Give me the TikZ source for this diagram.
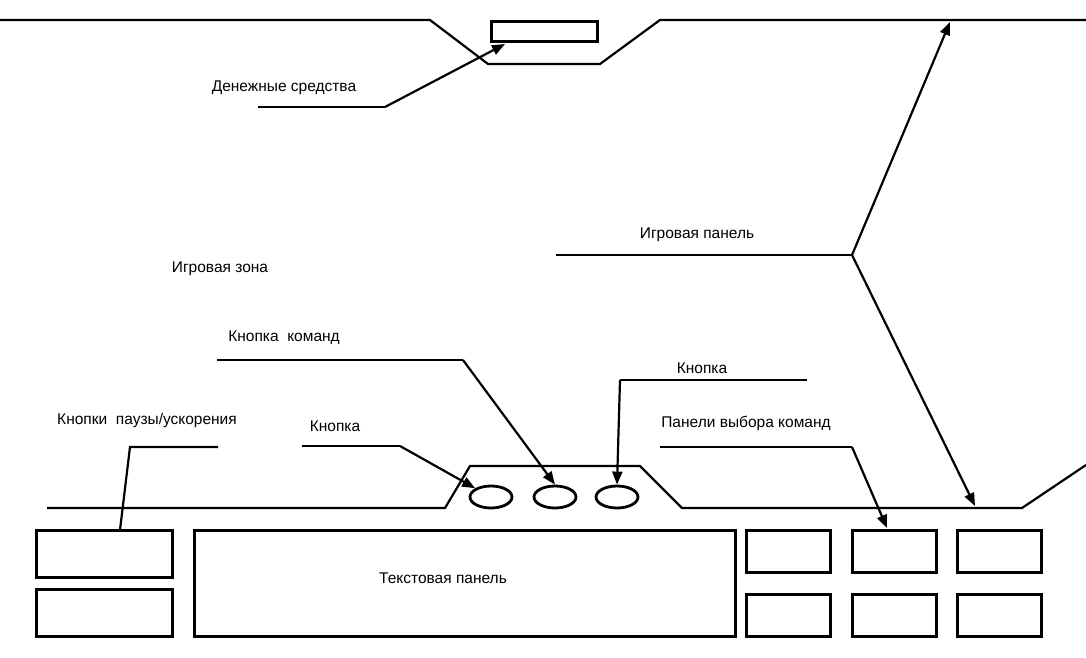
\documentclass[tikz,border=0pt]{standalone}
\usepackage{fontspec}
\setmainfont{Liberation Sans}
\usetikzlibrary{arrows.meta,shapes.geometric}
\begin{document}
\begin{tikzpicture}[x=1pt,y=-1pt,
  ln/.style={line width=2.2pt},
  box/.style={line width=3pt},
  arr/.style={ln,-{Triangle[length=13pt,width=10pt]}},
  lbl/.style={font=\fontsize{15.5}{18}\selectfont,inner sep=0pt},
  btn/.style={draw,line width=2.8pt,ellipse,minimum width=42pt,minimum height=22pt,inner sep=0pt}]
\useasboundingbox[fill=white] (0,0) rectangle (1086,658);
% top
\draw[ln] (0,20) -- (430,20) -- (488,64) -- (600,64) -- (660,20) -- (1086,20);
\node[draw,box,minimum width=106pt,minimum height=20pt,inner sep=0pt] (money) at (544,32) {};
\coordinate (m1) at (258,107); \coordinate (m2) at (385,107);
\draw[ln] (m1) -- (m2);
\draw[arr] (m2) -- (505,44);
\node[lbl] (tm) at (284,88) {Денежные средства};
\node[lbl] (zone) at (220,269) {Игровая зона};
% game panel
\coordinate (g1) at (556,255); \coordinate (g2) at (852,255);
\draw[ln] (g1) -- (g2);
\draw[arr] (g2) -- (950,22);
\draw[arr] (g2) -- (975,506);
\node[lbl] (tg) at (697,235) {Игровая панель};
% bottom line
\draw[ln] (47,508) -- (445,508) -- (470,466) -- (640,466) -- (682,508) -- (1022,508) -- (1086,465);
\node[btn] (b1) at (491,497) {};
\node[btn] (b2) at (555,497) {};
\node[btn] (b3) at (617,497) {};
% labels with arrows
\coordinate (k1) at (217,360); \coordinate (k2) at (463,360);
\draw[ln] (k1) -- (k2); \draw[arr] (k2) -- (b2.north);
\node[lbl] (tk) at (284,338) {Кнопка\ \ команд};
\coordinate (r1) at (807,380); \coordinate (r2) at (620,380);
\draw[ln] (r1) -- (r2); \draw[arr] (r2) -- (b3.north);
\node[lbl] (tr) at (702,368) {Кнопка};
\coordinate (l1) at (302,446); \coordinate (l2) at (400,446);
\draw[ln] (l1) -- (l2); \draw[arr] (l2) -- (b1.north west);
\node[lbl] (tl) at (335,426) {Кнопка};
\node[lbl] (tp) at (147,420) {Кнопки\ \ паузы/ускорения};
\coordinate (p1) at (218,447); \coordinate (p2) at (130,447); \coordinate (p3) at (120,530);
\draw[ln] (p1) -- (p2) -- (p3);
\node[lbl] (tc) at (746,423) {Панели выбора команд};
\coordinate (c1) at (660,447); \coordinate (c2) at (852,447);
\draw[ln] (c1) -- (c2); \draw[arr] (c2) -- (887,528);
% rectangles
\draw[box] (36,530) rectangle (172,577);
\draw[box] (36,589) rectangle (172,636);
\draw[box] (194,530) rectangle (735,636);
\node[lbl] (tt) at (443,578) {Текстовая панель};
\foreach \x in {746,852,957} {
  \draw[box] (\x,530) rectangle ++(84,42);
  \draw[box] (\x,594) rectangle ++(84,42);
}
\end{tikzpicture}
\end{document}
